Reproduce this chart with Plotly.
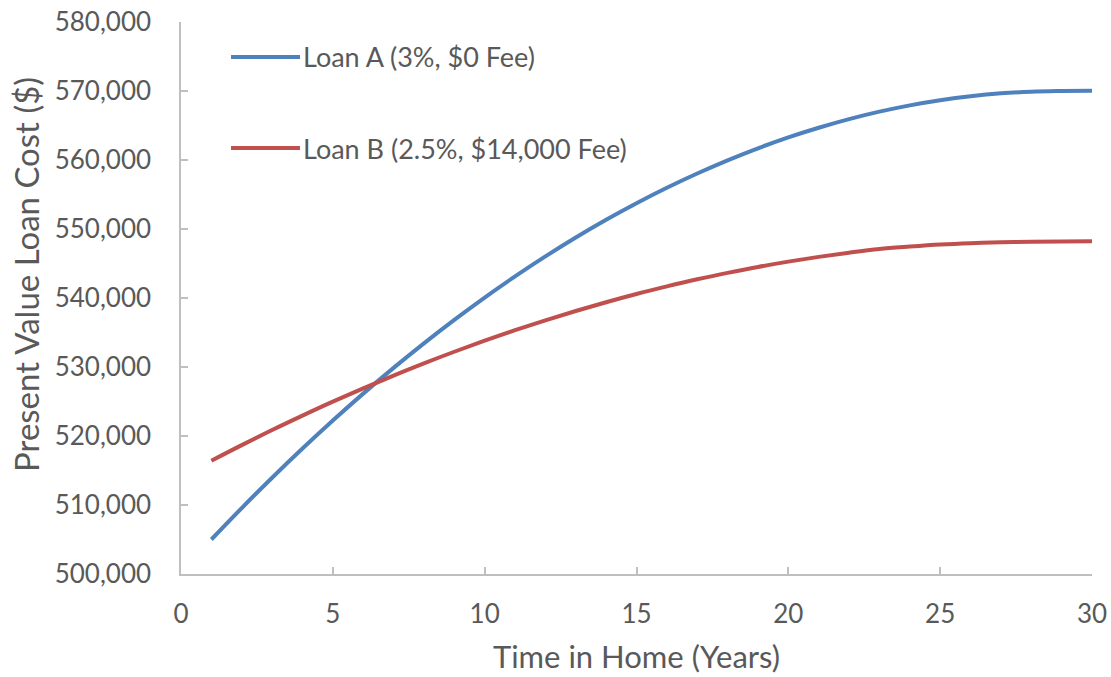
import plotly.graph_objects as go

years = list(range(1, 31))
loan_a = [505000, 509560, 513950, 518180, 522240, 526140, 529870, 533430, 536830, 540070,
          543130, 546030, 548770, 551340, 553740, 555980, 558050, 559960, 561700, 563280,
          564680, 565930, 567010, 567920, 568660, 569240, 569660, 569900, 570000, 570050]
loan_b = [516420, 518680, 520870, 522960, 524980, 526910, 528760, 530530, 532210, 533810,
          535330, 536770, 538120, 539390, 540580, 541680, 542710, 543640, 544500, 545270,
          545960, 546570, 547100, 547450, 547750, 547950, 548080, 548160, 548200, 548220]
series_names = ["Loan A (3%, $0 Fee)", "Loan B (2.5%, $14,000 Fee)"]
colors = ["#4F81BD", "#C0504D"]
x_ticks = [0, 5, 10, 15, 20, 25, 30]
y_ticks = [500000, 510000, 520000, 530000, 540000, 550000, 560000, 570000, 580000]
x_title = "Time in Home (Years)"
y_title = "Present Value Loan Cost ($)"

FONT = "Lato, Open Sans, sans-serif"
TXT = "#595959"
AX = "#BFBFBF"

fig = go.Figure()
for ys, name, c in zip([loan_a, loan_b], series_names, colors):
    fig.add_trace(go.Scatter(x=years, y=ys, mode="lines", name=name,
                             line=dict(color=c, width=4, shape="spline"),
                             showlegend=False))

# manual legend (line sample + label)
leg_y = [0.9366, 0.7717]
for name, c, ly in zip(series_names, colors, leg_y):
    fig.add_shape(type="line", xref="paper", yref="paper",
                  x0=0.0549, x1=0.1306, y0=ly, y1=ly,
                  line=dict(color=c, width=4))
    fig.add_annotation(xref="paper", yref="paper", x=0.1317, y=ly,
                       text=name, showarrow=False, xanchor="left", yanchor="middle",
                       font=dict(family=FONT, size=27, color=TXT))

# y-axis title
fig.add_annotation(xref="paper", yref="paper", x=-0.170, y=0.542,
                   text=y_title, textangle=-90, showarrow=False,
                   xanchor="center", yanchor="middle",
                   font=dict(family=FONT, size=33, color=TXT))

fig.update_layout(
    width=1111, height=677,
    margin=dict(l=181, r=19, t=22, b=103),
    paper_bgcolor="white", plot_bgcolor="white",
    font=dict(family=FONT, color=TXT, size=26),
)
fig.update_xaxes(
    range=[0, 30], tickvals=x_ticks, ticktext=[str(v) for v in x_ticks],
    automargin=False,
    showgrid=False, zeroline=False, showline=True, linecolor=AX, linewidth=1.5,
    ticks="inside", ticklen=7, tickcolor=AX, tickwidth=1.5,
    ticklabelstandoff=16,
    tickfont=dict(family=FONT, size=26, color=TXT),
    title=dict(text=x_title, font=dict(family=FONT, size=31, color=TXT), standoff=18),
)
fig.update_yaxes(
    range=[500000, 580000], tickvals=y_ticks,
    ticktext=[f"{v:,}" for v in y_ticks],
    automargin=False,
    showgrid=False, zeroline=False, showline=True, linecolor=AX, linewidth=1.5,
    ticks="inside", ticklen=7, tickcolor=AX, tickwidth=1.5,
    ticklabelstandoff=23,
    tickfont=dict(family=FONT, size=26, color=TXT),
)

fig.write_html("out.html")
